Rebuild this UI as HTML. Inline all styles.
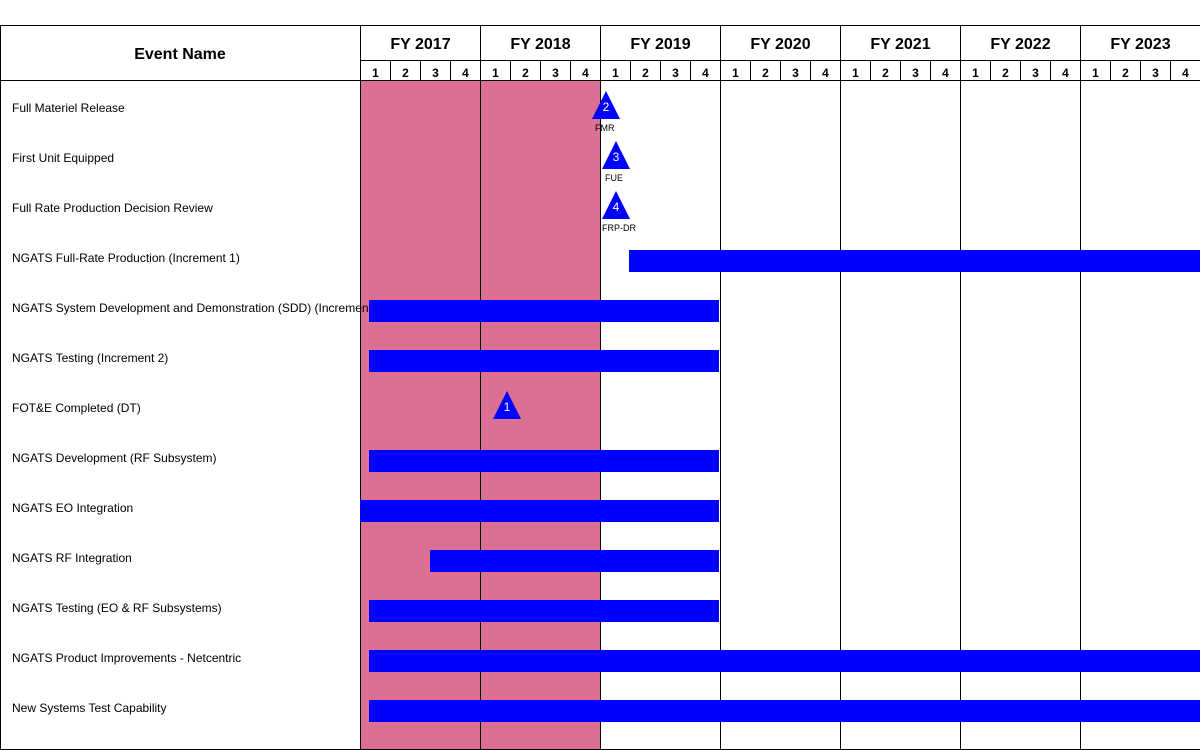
<!DOCTYPE html>
<html><head><style>
body{margin:0;width:1200px;height:750px;background:#fff;position:relative;overflow:hidden;font-family:"Liberation Sans",Arial,sans-serif}
div{position:absolute;box-sizing:border-box}
.fy{top:25px;height:36px;width:120px;text-align:center;font-weight:bold;font-size:16px;line-height:40px;border-left:1px solid #000}
.q{top:60px;height:21px;width:30px;text-align:center;font-weight:bold;font-size:12px;line-height:24px;border-left:1px solid #000;border-top:1px solid #000}
.lab{left:12px;font-size:12px;white-space:nowrap;height:14px;line-height:14px}
.bar{height:22px;background:#0000ff}
.vl{top:80px;height:670px;width:1px;background:#000}
.tri{width:0;height:0;border-left:14px solid transparent;border-right:14px solid transparent;border-bottom:28px solid #0000ff}
.tn{color:#fff;font-size:12px;width:28px;text-align:center}
.tl{font-size:9px}
</style></head><body>
<div style="left:360px;top:80px;width:240px;height:670px;background:#db7092"></div>
<div style="left:0;top:25px;width:1200px;height:56px;border:1px solid #000;border-right:none"></div>
<div style="left:0;top:25px;width:360px;height:56px;text-align:center;font-weight:bold;font-size:16px;line-height:60px">Event Name</div>
<div style="left:0;top:749px;width:1200px;height:1px;background:#000"></div>
<div style="left:0;top:80px;width:1px;height:670px;background:#000"></div>
<div class="fy" style="left:360px">FY 2017</div>
<div class="fy" style="left:480px">FY 2018</div>
<div class="fy" style="left:600px">FY 2019</div>
<div class="fy" style="left:720px">FY 2020</div>
<div class="fy" style="left:840px">FY 2021</div>
<div class="fy" style="left:960px">FY 2022</div>
<div class="fy" style="left:1080px">FY 2023</div>
<div id="qs"></div>
<script>
var h='';for(var i=0;i<28;i++){h+='<div class="q" style="left:'+(360+i*30)+'px">'+(i%4+1)+'</div>';}
for(var j=0;j<7;j++){h+='<div class="vl" style="left:'+(360+j*120)+'px"></div>';}
document.getElementById('qs').outerHTML=h;
</script>
<div class="lab" style="top:101px">Full Materiel Release</div>
<div class="lab" style="top:151px">First Unit Equipped</div>
<div class="lab" style="top:201px">Full Rate Production Decision Review</div>
<div class="lab" style="top:251px">NGATS Full-Rate Production (Increment 1)</div>
<div class="lab" style="top:301px">NGATS System Development and Demonstration (SDD) (Increment 2)</div>
<div class="lab" style="top:351px">NGATS Testing (Increment 2)</div>
<div class="lab" style="top:401px">FOT&amp;E Completed (DT)</div>
<div class="lab" style="top:451px">NGATS Development (RF Subsystem)</div>
<div class="lab" style="top:501px">NGATS EO Integration</div>
<div class="lab" style="top:551px">NGATS RF Integration</div>
<div class="lab" style="top:601px">NGATS Testing (EO &amp; RF Subsystems)</div>
<div class="lab" style="top:651px">NGATS Product Improvements - Netcentric</div>
<div class="lab" style="top:701px">New Systems Test Capability</div>
<div class="bar" style="left:629px;top:250px;width:571px"></div>
<div class="bar" style="left:369px;top:300px;width:350px"></div>
<div class="bar" style="left:369px;top:350px;width:350px"></div>
<div class="bar" style="left:369px;top:450px;width:350px"></div>
<div class="bar" style="left:360px;top:500px;width:359px"></div>
<div class="bar" style="left:430px;top:550px;width:289px"></div>
<div class="bar" style="left:369px;top:600px;width:350px"></div>
<div class="bar" style="left:369px;top:650px;width:831px"></div>
<div class="bar" style="left:369px;top:700px;width:831px"></div>
<div class="tri" style="left:592px;top:91px"></div><div class="tn" style="left:592px;top:100px">2</div><div class="tl" style="left:595px;top:123px">FMR</div>
<div class="tri" style="left:602px;top:141px"></div><div class="tn" style="left:602px;top:150px">3</div><div class="tl" style="left:605px;top:173px">FUE</div>
<div class="tri" style="left:602px;top:191px"></div><div class="tn" style="left:602px;top:200px">4</div><div class="tl" style="left:602px;top:223px">FRP-DR</div>
<div class="tri" style="left:493px;top:391px"></div><div class="tn" style="left:493px;top:400px">1</div>
</body></html>
